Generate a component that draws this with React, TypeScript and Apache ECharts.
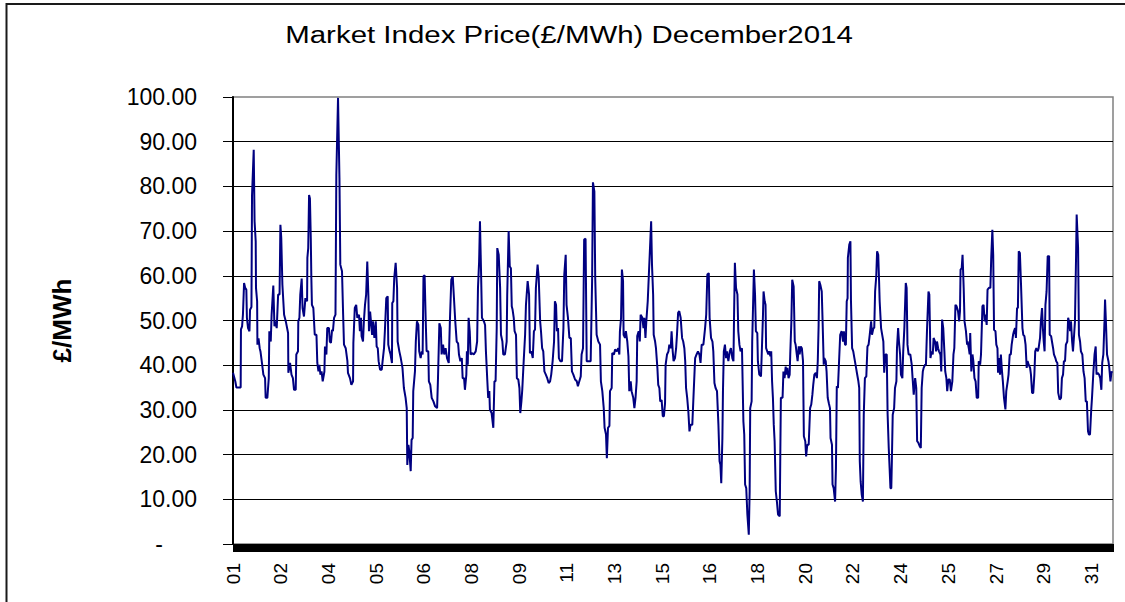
import React, { useEffect, useRef } from "react";
import * as echarts from "echarts";

const TITLE = "Market Index Price(£/MWh) December2014";
const Y_NAME = "£/MWh";
const X_LABELS = ["01", "02", "04", "05", "06", "08", "09", "11", "13", "15", "16", "18", "20", "22", "24", "25", "27", "29", "31"];
const X_LABEL_STEP = 1.68; // days between two category labels
const DAYS_IN_MONTH = 31;
const Y_MIN = 0;
const Y_MAX = 100;
const Y_STEP = 10;

// [time in days since 1 Dec 00:00, £/MWh]
const DEC_01_04: [number, number][] = [
  [0.00,38.3],[0.08,36.4],[0.12,35.0],[0.27,35.0],[0.28,48.0],[0.32,48.7],[0.35,51.3],[0.39,58.4],[0.43,57.3],[0.47,56.9],[0.49,50.6],[0.53,48.3],[0.58,47.6],[0.60,52.4],[0.65,53.0],[0.67,78.0],[0.73,88.2],[0.76,72.2],[0.80,67.7],[0.81,57.3],[0.85,54.3],[0.86,44.6],[0.90,46.0],[0.94,43.8],[0.97,43.0],[1.02,40.5],[1.07,37.9],[1.13,37.1],[1.15,32.7],[1.21,32.7],[1.26,37.1],[1.28,47.6],[1.33,45.3],[1.36,51.3],[1.42,57.8],[1.46,48.7],[1.50,49.8],[1.54,48.3],[1.59,55.8],[1.64,55.8],[1.67,71.4],[1.70,68.5],[1.74,58.0],[1.80,51.3],[1.86,49.8],[1.94,47.2],[1.95,38.3],[2.01,40.5],[2.06,37.9],[2.11,37.1],[2.15,34.5],[2.21,34.5],[2.23,42.4],[2.29,43.1],[2.30,49.8],[2.34,50.6],[2.37,55.8],[2.42,59.4],[2.45,52.8],[2.50,50.9],[2.55,55.0],[2.61,54.3],[2.62,64.0],[2.65,66.2],[2.68,78.1],[2.71,77.3],[2.74,68.5],[2.76,59.5],[2.78,53.5],[2.83,52.8],[2.88,46.8],[2.94,46.8],[2.97,40.5],[3.01,38.6],[3.04,40.1],[3.08,37.9],[3.12,38.6],[3.16,36.4],[3.22,38.6],[3.24,44.2],[3.29,42.4],[3.32,48.3],[3.38,48.3],[3.41,45.3],[3.45,45.0],[3.49,47.9],[3.52,47.6],[3.56,50.6],[3.61,51.3],[3.64,82.6],[3.70,99.8],[3.75,81.9],[3.78,62.5],[3.84,61.0],[3.88,51.3],[3.91,44.6],[3.97,43.8],[4.03,40.9],[4.05,38.3],[4.12,37.1],[4.17,35.6],[4.23,36.4],[4.24,45.0],[4.29,52.8],[4.34,53.5],[4.38,50.6],[4.44,51.3]
];
const DEC_05_09: [number, number][] = [
  [4.47,47.6],[4.51,50.6],[4.53,46.5],[4.58,45.3],[4.61,49.8],[4.65,53.5],[4.69,55.8],[4.73,63.2],[4.77,55.4],[4.79,47.6],[4.83,52.0],[4.86,49.8],[4.90,46.8],[4.93,49.8],[4.98,46.1],[5.03,49.8],[5.06,44.2],[5.10,43.8],[5.13,40.9],[5.18,39.0],[5.24,39.0],[5.27,40.9],[5.32,43.8],[5.35,47.6],[5.40,55.0],[5.45,55.4],[5.47,44.6],[5.52,43.1],[5.55,42.4],[5.60,40.5],[5.61,53.9],[5.65,54.3],[5.68,59.5],[5.73,62.9],[5.78,57.3],[5.80,45.3],[5.86,43.1],[5.91,41.6],[5.97,39.4],[6.02,34.9],[6.08,32.7],[6.12,30.4],[6.14,17.7],[6.18,22.2],[6.21,20.8],[6.26,16.3],[6.29,23.3],[6.33,23.7],[6.35,34.2],[6.41,38.6],[6.44,45.3],[6.48,49.8],[6.53,49.0],[6.56,43.1],[6.61,41.6],[6.65,43.1],[6.68,42.4],[6.71,59.9],[6.75,60.1],[6.79,49.8],[6.82,43.1],[6.88,43.1],[6.90,36.4],[6.95,35.6],[7.00,32.7],[7.06,31.9],[7.12,30.8],[7.19,30.4],[7.22,36.8],[7.27,49.4],[7.32,48.3],[7.35,42.4],[7.40,44.6],[7.44,42.4],[7.49,43.8],[7.54,41.6],[7.60,40.5],[7.64,49.8],[7.69,59.1],[7.74,59.9],[7.79,54.3],[7.83,49.8],[7.88,45.3],[7.93,44.9],[7.96,42.4],[8.01,40.9],[8.06,41.6],[8.09,37.1],[8.14,37.1],[8.17,34.5],[8.22,37.9],[8.24,43.1],[8.27,40.1],[8.30,50.6],[8.34,47.6],[8.37,42.4],[8.43,42.7],[8.48,42.4],[8.55,43.1],[8.60,45.3],[8.63,57.3],[8.67,63.2],[8.70,72.2]
];
const DEC_09_13: [number, number][] = [
  [8.74,60.3],[8.77,50.6],[8.84,49.8],[8.88,49.0],[8.91,43.1],[8.96,36.4],[8.99,32.7],[9.03,34.2],[9.05,30.1],[9.11,29.3],[9.17,26.0],[9.21,36.4],[9.25,36.4],[9.29,48.3],[9.31,66.2],[9.36,64.7],[9.41,57.3],[9.44,46.8],[9.49,45.3],[9.52,42.4],[9.58,42.4],[9.64,45.3],[9.66,55.8],[9.71,70.0],[9.75,62.1],[9.79,61.7],[9.82,53.2],[9.85,52.4],[9.89,50.6],[9.92,47.6],[9.97,46.8],[10.00,37.1],[10.05,36.8],[10.09,34.9],[10.12,29.3],[10.16,31.9],[10.19,34.5],[10.24,40.9],[10.29,46.8],[10.32,53.5],[10.38,58.8],[10.43,55.8],[10.46,42.7],[10.51,43.1],[10.56,41.6],[10.60,47.6],[10.64,48.0],[10.67,57.3],[10.73,62.5],[10.77,59.5],[10.82,49.8],[10.85,47.6],[10.89,43.8],[10.93,43.1],[10.97,38.6],[11.02,37.9],[11.07,37.1],[11.12,36.0],[11.17,36.4],[11.21,37.9],[11.26,40.9],[11.31,45.3],[11.34,54.3],[11.38,53.5],[11.41,47.6],[11.45,48.3],[11.48,41.6],[11.53,40.9],[11.59,40.9],[11.64,48.3],[11.67,60.3],[11.72,64.7],[11.75,53.5],[11.80,50.6],[11.85,46.1],[11.90,46.1],[11.94,38.6],[11.99,37.9],[12.05,36.8],[12.11,36.4],[12.15,35.3],[12.20,36.4],[12.25,37.5],[12.28,42.4],[12.33,43.8],[12.37,68.1],[12.42,68.3],[12.46,40.9],[12.55,40.9],[12.60,40.9],[12.65,58.8],[12.68,80.9],[12.73,78.9],[12.76,59.5],[12.81,46.8],[12.87,45.3],[12.93,44.6],[12.96,36.4],[13.01,34.2],[13.06,30.4],[13.09,26.0],[13.14,24.5],[13.17,19.2],[13.21,26.0],[13.26,26.4]
];
const DEC_14_18: [number, number][] = [
  [13.28,34.2],[13.34,34.9],[13.36,42.7],[13.42,42.4],[13.46,43.5],[13.52,43.1],[13.57,43.8],[13.61,42.4],[13.63,47.6],[13.67,50.6],[13.70,61.4],[13.74,58.8],[13.76,46.8],[13.81,46.1],[13.84,47.6],[13.89,45.3],[13.93,42.0],[13.96,34.2],[14.01,36.4],[14.04,34.2],[14.10,32.7],[14.14,30.4],[14.18,32.7],[14.22,36.4],[14.24,46.5],[14.29,47.6],[14.33,45.3],[14.36,51.3],[14.42,50.6],[14.46,48.3],[14.49,50.6],[14.53,46.1],[14.56,49.8],[14.61,54.3],[14.65,60.3],[14.69,66.2],[14.73,72.2],[14.76,62.5],[14.80,55.8],[14.82,46.8],[14.87,45.3],[14.90,43.8],[14.95,39.4],[14.98,35.6],[15.02,34.9],[15.05,31.9],[15.10,32.2],[15.14,28.6],[15.18,28.6],[15.22,31.5],[15.24,40.1],[15.29,42.4],[15.34,43.1],[15.37,44.6],[15.42,43.8],[15.45,47.6],[15.49,43.1],[15.52,40.9],[15.57,41.6],[15.61,43.8],[15.64,46.8],[15.68,51.7],[15.72,52.1],[15.77,50.6],[15.82,46.1],[15.86,45.3],[15.90,43.8],[15.93,40.9],[15.96,34.9],[16.00,32.7],[16.04,29.7],[16.08,25.2],[16.12,26.7],[16.18,26.7],[16.23,34.2],[16.28,41.6],[16.33,42.4],[16.38,43.1],[16.43,42.4],[16.47,40.5],[16.51,44.6],[16.57,44.6],[16.63,48.3],[16.67,51.3],[16.71,60.3],[16.76,60.6],[16.79,50.6],[16.84,46.1],[16.89,45.3],[16.92,43.1],[16.96,36.0],[17.00,34.9],[17.05,34.2],[17.10,26.7],[17.14,18.5],[17.17,17.7],[17.20,13.6],[17.24,23.7],[17.26,34.2],[17.29,43.1],[17.33,44.6],[17.37,41.6],[17.40,43.1],[17.45,40.9],[17.50,43.1],[17.54,43.8],[17.59,41.6]
];
const DEC_18_22: [number, number][] = [
  [17.63,40.9],[17.65,50.6],[17.68,62.9],[17.72,57.3],[17.77,55.8],[17.80,47.6],[17.84,44.6],[17.88,43.1],[17.93,43.8],[17.98,27.4],[18.01,24.5],[18.04,13.3],[18.08,12.5],[18.12,6.6],[18.17,2.1],[18.20,11.8],[18.22,30.4],[18.27,31.9],[18.29,45.3],[18.33,55.8],[18.35,61.4],[18.39,55.8],[18.42,47.6],[18.47,47.2],[18.49,40.9],[18.54,37.9],[18.60,37.5],[18.64,45.3],[18.67,51.3],[18.69,56.5],[18.73,54.3],[18.76,53.5],[18.78,43.8],[18.82,43.1],[18.86,42.4],[18.89,43.1],[18.93,42.0],[18.96,43.1],[18.99,36.4],[19.02,32.7],[19.05,26.7],[19.08,23.0],[19.12,11.8],[19.16,9.5],[19.20,6.6],[19.26,6.2],[19.28,20.0],[19.30,32.7],[19.36,32.7],[19.39,38.6],[19.43,37.1],[19.47,39.7],[19.50,37.9],[19.53,39.4],[19.57,37.1],[19.61,37.9],[19.63,42.4],[19.67,49.8],[19.70,59.1],[19.75,57.6],[19.79,45.3],[19.82,44.6],[19.86,42.4],[19.89,40.9],[19.93,44.2],[19.96,42.4],[20.00,44.2],[20.04,43.8],[20.08,40.9],[20.11,24.1],[20.16,23.0],[20.19,19.6],[20.23,22.2],[20.28,22.2],[20.33,30.4],[20.37,31.2],[20.41,33.4],[20.44,35.6],[20.48,37.9],[20.53,38.3],[20.57,37.1],[20.60,40.9],[20.63,49.0],[20.65,58.8],[20.69,58.0],[20.74,56.5],[20.77,49.8],[20.81,40.1],[20.83,41.6],[20.88,40.9],[20.91,38.6],[20.95,32.7],[20.99,31.5],[21.03,30.4],[21.05,23.7],[21.10,22.2],[21.12,13.3],[21.16,12.5],[21.21,9.5],[21.24,17.0],[21.27,35.3],[21.31,34.9],[21.35,40.9],[21.39,46.8],[21.44,47.6],[21.49,45.3],[21.52,47.6],[21.56,44.6],[21.59,44.6],[21.62,54.3],[21.65,55.0],[21.66,64.0],[21.71,67.0],[21.75,67.7],[21.77,54.3],[21.81,43.8],[21.85,43.1],[21.89,41.6]
];
const DEC_22_27: [number, number][] = [
  [21.97,38.6],[22.03,36.4],[22.06,34.9],[22.08,18.5],[22.11,14.0],[22.15,11.0],[22.19,9.5],[22.22,28.9],[22.26,37.1],[22.31,37.5],[22.35,44.2],[22.39,44.6],[22.43,46.8],[22.48,49.8],[22.51,46.8],[22.56,48.3],[22.59,48.3],[22.62,56.5],[22.66,59.9],[22.69,65.5],[22.73,64.7],[22.76,58.8],[22.78,54.3],[22.83,48.3],[22.87,46.8],[22.91,45.3],[22.94,38.3],[22.98,42.4],[23.03,42.4],[23.06,29.1],[23.10,21.5],[23.13,17.0],[23.16,12.5],[23.19,12.5],[23.21,18.5],[23.24,28.9],[23.29,30.4],[23.32,34.9],[23.37,36.4],[23.39,43.8],[23.43,48.3],[23.46,45.3],[23.50,42.4],[23.53,37.9],[23.58,37.1],[23.61,43.1],[23.65,48.3],[23.70,58.4],[23.73,57.3],[23.76,44.6],[23.80,42.4],[23.86,42.4],[23.91,40.1],[23.94,37.1],[23.98,33.4],[24.03,37.1],[24.07,34.9],[24.10,23.0],[24.14,22.7],[24.19,21.9],[24.23,21.5],[24.26,34.9],[24.30,38.6],[24.33,39.4],[24.38,40.1],[24.41,40.1],[24.45,48.3],[24.50,56.5],[24.53,55.8],[24.57,41.6],[24.61,43.1],[24.65,42.4],[24.68,46.1],[24.73,45.3],[24.77,43.1],[24.80,45.3],[24.84,43.8],[24.87,43.1],[24.92,42.4],[24.95,38.6],[24.98,50.2],[25.02,48.3],[25.06,43.1],[25.09,38.6],[25.13,37.1],[25.16,34.2],[25.20,36.8],[25.25,36.8],[25.29,34.2],[25.34,36.4],[25.38,42.4],[25.41,43.8],[25.45,53.5],[25.49,53.2],[25.54,52.1],[25.58,49.8],[25.61,52.1],[25.63,61.4],[25.67,61.7],[25.70,64.7],[25.74,57.3],[25.77,49.8],[25.82,47.6],[25.86,44.6],[25.88,45.3],[25.92,43.8],[25.95,42.4],[25.97,47.2],[26.01,38.6],[26.05,42.4],[26.08,40.9],[26.12,37.1],[26.16,36.4],[26.20,32.7],[26.25,32.7],[26.27,40.9],[26.32,40.1],[26.35,42.4]
];
const DEC_27_31: [number, number][] = [
  [26.40,53.2],[26.44,53.5],[26.48,49.8],[26.51,51.3],[26.55,49.0],[26.58,56.9],[26.63,57.3],[26.68,57.3],[26.71,64.0],[26.75,70.3],[26.78,64.7],[26.81,47.9],[26.86,47.6],[26.89,44.6],[26.93,43.8],[26.95,38.3],[26.98,41.6],[27.02,37.9],[27.05,42.4],[27.09,38.6],[27.12,36.4],[27.16,32.7],[27.21,30.1],[27.24,34.2],[27.29,36.4],[27.32,37.9],[27.36,42.4],[27.40,42.4],[27.43,44.6],[27.48,46.8],[27.51,47.6],[27.55,48.3],[27.58,46.1],[27.62,52.8],[27.65,52.8],[27.68,65.5],[27.72,65.1],[27.76,58.0],[27.81,48.3],[27.84,46.8],[27.88,46.5],[27.92,44.6],[27.96,39.4],[27.99,40.9],[28.03,40.1],[28.08,39.4],[28.11,37.9],[28.15,33.8],[28.19,33.8],[28.23,37.9],[28.26,43.1],[28.30,43.8],[28.35,43.1],[28.38,43.8],[28.43,46.1],[28.46,49.8],[28.50,52.8],[28.53,48.3],[28.56,45.3],[28.59,43.1],[28.62,53.5],[28.66,56.5],[28.70,64.4],[28.75,64.4],[28.77,46.8],[28.82,46.5],[28.85,45.3],[28.89,43.8],[28.92,42.4],[28.97,41.6],[29.00,40.9],[29.04,40.5],[29.07,33.8],[29.12,32.3],[29.17,32.7],[29.20,37.1],[29.24,37.9],[29.27,40.9],[29.31,40.9],[29.34,44.6],[29.39,45.3],[29.42,50.6],[29.45,49.8],[29.49,47.6],[29.52,49.8],[29.56,45.3],[29.59,43.1],[29.63,46.8],[29.66,49.8],[29.70,64.7],[29.72,73.7],[29.77,66.2],[29.80,46.8],[29.84,45.3],[29.87,43.1],[29.92,42.4],[29.96,38.6],[30.00,37.1],[30.04,31.9],[30.08,31.9],[30.12,25.2],[30.15,24.5],[30.19,24.5],[30.23,29.7],[30.26,32.7],[30.31,38.6],[30.35,42.4],[30.39,44.2],[30.42,37.9],[30.46,38.3],[30.51,37.9],[30.55,37.1],[30.59,34.5],[30.62,40.5],[30.66,42.4],[30.70,49.8],[30.72,54.7],[30.75,49.8],[30.79,42.4],[30.84,40.9],[30.87,39.4],[30.91,36.4],[30.95,38.6],[30.97,38.3]
];

const FONT = "Arial, 'Liberation Sans', sans-serif";

export default function App() {
  const ref = useRef<HTMLDivElement>(null);

  useEffect(() => {
    if (!ref.current) return;
    const chart = echarts.init(ref.current, null, { renderer: "svg" });
    const data = [
      ...DEC_01_04, ...DEC_05_09, ...DEC_09_13, ...DEC_14_18,
      ...DEC_18_22, ...DEC_22_27, ...DEC_27_31,
    ];
    chart.setOption({
      animation: false,
      backgroundColor: "#ffffff",
      textStyle: { fontFamily: FONT, color: "#000" },
      grid: {
        left: 233, right: 12, top: 97, bottom: 58,
        show: true, borderColor: "#808080", borderWidth: 1.5,
        backgroundColor: "#ffffff",
      },
      graphic: [
        {
          type: "rect", silent: true, z: 0,
          shape: { x: 6.5, y: 4, width: 1300, height: 800 },
          style: { fill: "none", stroke: "#1a1a1a", lineWidth: 2 },
        },
        {
          type: "text", silent: true, z: 10,
          x: 569, y: 35, scaleX: 1.28,
          style: {
            text: TITLE, fill: "#000",
            fontSize: 23, fontFamily: FONT,
            align: "center", verticalAlign: "middle",
            textAlign: "center", textVerticalAlign: "middle",
          },
        },
      ],
      xAxis: {
        type: "value",
        min: 0, max: DAYS_IN_MONTH, interval: X_LABEL_STEP,
        axisLine: { show: true, lineStyle: { color: "#000", width: 1 } },
        axisTick: { show: true, length: 8, lineStyle: { color: "#000", width: 1 } },
        minorTick: { show: true, splitNumber: 50, length: 8, lineStyle: { color: "#000", width: 1 } },
        splitLine: { show: false },
        minorSplitLine: { show: false },
        axisLabel: {
          rotate: 90, margin: 19, fontSize: 19, color: "#000", fontFamily: FONT,
          padding: [0, 0, 6, 0],
          showMinLabel: true, showMaxLabel: true,
          formatter: (v: number) => {
            const k = Math.round(v / X_LABEL_STEP);
            if (Math.abs(v - k * X_LABEL_STEP) > 1e-6) return "";
            return k < X_LABELS.length ? X_LABELS[k] : "";
          },
        },
      },
      yAxis: {
        type: "value",
        min: Y_MIN, max: Y_MAX, interval: Y_STEP,
        name: Y_NAME, nameLocation: "middle", nameGap: 158, nameRotate: 90,
        nameTextStyle: { fontSize: 26, fontWeight: "bold", color: "#000", fontFamily: FONT },
        axisLine: { show: true, lineStyle: { color: "#000", width: 2 } },
        axisTick: { show: true, length: 10, lineStyle: { color: "#000", width: 1 } },
        splitLine: { show: true, showMaxLine: false, lineStyle: { color: "#000", width: 1 } },
        axisLabel: {
          margin: 36, fontSize: 23, color: "#000", fontFamily: FONT,
          formatter: (v: number) => (v === 0 ? "{dash|-}" : v.toFixed(2)),
          rich: { dash: { fontSize: 23, color: "#000", fontFamily: FONT, padding: [0, 34, 0, 0] } },
        },
      },
      series: [
        {
          type: "line",
          data,
          showSymbol: false,
          symbol: "none",
          clip: true,
          lineStyle: { color: "#000080", width: 2 },
          itemStyle: { color: "#000080" },
        },
      ],
    });
    return () => chart.dispose();
  }, []);

  return (
    <div
      ref={ref}
      style={{ position: "absolute", left: 0, top: 0, width: 1125, height: 602, background: "#fff" }}
    />
  );
}
